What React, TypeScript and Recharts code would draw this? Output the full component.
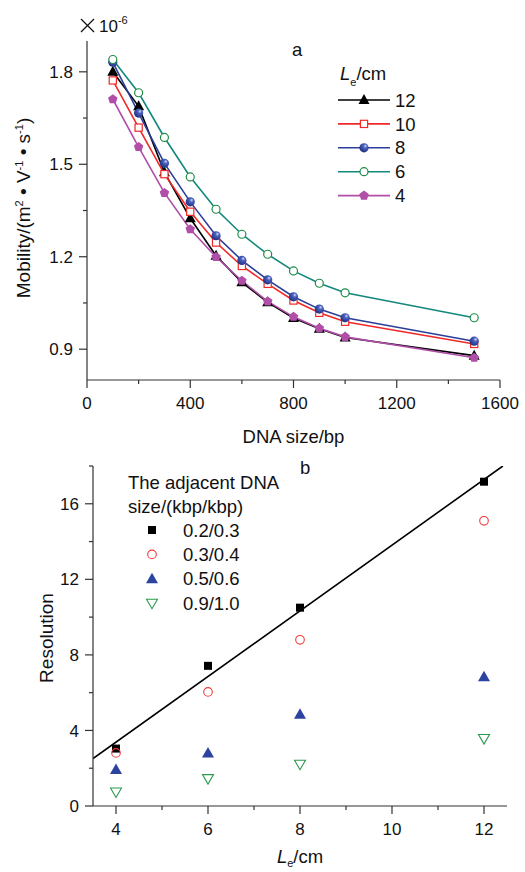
import React from "react";
import { LineChart, Line, XAxis, YAxis, Legend, ComposedChart, Scatter, Label } from "recharts";

// panel a: mobility (x10^-6 m2/V/s) vs DNA size, one series per effective length
const sizes = [100, 200, 300, 400, 500, 600, 700, 800, 900, 1000, 1500];
const mob12 = [1.8, 1.688, 1.474, 1.325, 1.203, 1.117, 1.052, 1.001, 0.966, 0.938, 0.879];
const mob10 = [1.772, 1.619, 1.468, 1.346, 1.246, 1.17, 1.112, 1.058, 1.018, 0.989, 0.917];
const mob8 = [1.831, 1.666, 1.503, 1.378, 1.268, 1.188, 1.125, 1.07, 1.03, 1.002, 0.926];
const mob6 = [1.84, 1.732, 1.587, 1.459, 1.354, 1.273, 1.208, 1.154, 1.114, 1.083, 1.002];
const mob4 = [1.711, 1.556, 1.407, 1.289, 1.199, 1.122, 1.055, 1.005, 0.968, 0.94, 0.872];
const lengthNames = ["12", "10", "8", "6", "4"];
const mobTicksX = [0, 200, 400, 600, 800, 1000, 1200, 1400, 1600];
const mobLabelsX = [0, 400, 800, 1200, 1600];
const mobTicksY = [0.9, 1.05, 1.2, 1.35, 1.5, 1.65, 1.8];
const mobLabelsY = [0.9, 1.2, 1.5, 1.8];

// panel b: resolution vs effective length
const lengths = [4, 6, 8, 12];
const res23 = [3.04, 7.42, 10.5, 17.17];
const res34 = [2.81, 6.04, 8.8, 15.1];
const res56 = [1.93, 2.81, 4.86, 6.84];
const res910 = [0.74, 1.45, 2.21, 3.57];
const pairNames = ["0.2/0.3", "0.3/0.4", "0.5/0.6", "0.9/1.0"];
const fitX = [3.5, 12.41];
const fitY = [2.51, 18];
const resTicksX = [4, 5, 6, 7, 8, 9, 10, 11, 12];
const resLabelsX = [4, 6, 8, 10, 12];
const resTicksY = [0, 2, 4, 6, 8, 10, 12, 14, 16, 18];
const resLabelsY = [0, 4, 8, 12, 16];

const FONT = "'Liberation Sans', Arial, sans-serif";
const AXIS = "#333";
const RED = "#f02828";
const BLUE = "#2b3f99";
const TEAL = "#13887c";
const GREEN = "#1f8c46";
const MAGENTA = "#b04ea8";

const mobRows = sizes.map((s, i) => ({
  size: s,
  m12: mob12[i],
  m10: mob10[i],
  m8: mob8[i],
  m6: mob6[i],
  m4: mob4[i],
}));
const toPts = (ys: number[]) => lengths.map((x, i) => ({ x, y: ys[i] }));
const fitRows = fitX.map((x, i) => ({ x, y: fitY[i] }));

type Kind = "tri" | "square" | "sphere" | "circle" | "pent" | "box" | "ring" | "up" | "down";

const Marker = ({ kind, cx, cy }: { kind: Kind; cx: number; cy: number }) => {
  if (cx == null || cy == null) return null;
  switch (kind) {
    case "tri":
      return <polygon points={`${cx},${cy - 6} ${cx + 5.5},${cy + 4} ${cx - 5.5},${cy + 4}`} fill="#000" />;
    case "square":
      return <rect x={cx - 3.6} y={cy - 3.6} width={7.2} height={7.2} fill="#fff" stroke={RED} strokeWidth={1.2} />;
    case "sphere":
      return <circle cx={cx} cy={cy} r={4.6} fill="url(#sphereGrad)" />;
    case "circle":
      return <circle cx={cx} cy={cy} r={4} fill="#fff" stroke={GREEN} strokeWidth={1.2} />;
    case "pent": {
      const pts = [0, 1, 2, 3, 4]
        .map((k) => {
          const a = -Math.PI / 2 + (k * 2 * Math.PI) / 5;
          return `${cx + 5 * Math.cos(a)},${cy + 5 * Math.sin(a)}`;
        })
        .join(" ");
      return <polygon points={pts} fill={MAGENTA} />;
    }
    case "box":
      return <rect x={cx - 4} y={cy - 4} width={8} height={8} fill="#000" />;
    case "ring":
      return <circle cx={cx} cy={cy} r={4.3} fill="none" stroke="#f03a3a" strokeWidth={1.1} />;
    case "up":
      return <polygon points={`${cx},${cy - 6} ${cx + 6},${cy + 4.5} ${cx - 6},${cy + 4.5}`} fill="#2c44a0" />;
    case "down":
      return (
        <polygon
          points={`${cx - 5.5},${cy - 4} ${cx + 5.5},${cy - 4} ${cx},${cy + 5.5}`}
          fill="#fff"
          stroke="#2b9a4e"
          strokeWidth={1.1}
        />
      );
  }
  return null;
};

const isIn = (list: number[], v: number) => list.some((m) => Math.abs(m - v) < 1e-6);

const makeTick = (orient: "left" | "bottom", labels: number[]) => (props: any) => {
  const { x, y, payload } = props;
  const v = payload.value;
  const major = isIn(labels, v);
  const len = major ? 8 : 4;
  if (orient === "left") {
    return (
      <g>
        <line x1={x - len} x2={x} y1={y} y2={y} stroke={AXIS} strokeWidth={1.2} />
        {major && (
          <text x={x - 14} y={y} dy="0.36em" textAnchor="end" fontSize={17} fontFamily={FONT} fill="#111">
            {String(v)}
          </text>
        )}
      </g>
    );
  }
  return (
    <g>
      <line x1={x} x2={x} y1={y} y2={y + len} stroke={AXIS} strokeWidth={1.2} />
      {major && (
        <text x={x} y={y + 23} dy="0.36em" textAnchor="middle" fontSize={17} fontFamily={FONT} fill="#111">
          {String(v)}
        </text>
      )}
    </g>
  );
};

const mobSeries: { key: string; color: string; kind: Kind }[] = [
  { key: "m12", color: "#000", kind: "tri" },
  { key: "m10", color: RED, kind: "square" },
  { key: "m8", color: BLUE, kind: "sphere" },
  { key: "m6", color: TEAL, kind: "circle" },
  { key: "m4", color: MAGENTA, kind: "pent" },
];

const resSeries: { data: number[]; kind: Kind }[] = [
  { data: res23, kind: "box" },
  { data: res34, kind: "ring" },
  { data: res56, kind: "up" },
  { data: res910, kind: "down" },
];

const LegendA = () => (
  <svg width={110} height={145} style={{ overflow: "visible", display: "block" }}>
    <text x={4} y={18} fontSize={18.5} fontFamily={FONT} fill="#111">
      <tspan fontStyle="italic">L</tspan>
      <tspan dy={6} fontSize={11}>e</tspan>
      <tspan dy={-6}>/cm</tspan>
    </text>
    {mobSeries.map((s, i) => {
      const y = 38 + i * 23.9;
      return (
        <g key={s.key}>
          <line x1={2} x2={54} y1={y} y2={y} stroke={s.color} strokeWidth={1.6} />
          <Marker kind={s.kind} cx={28} cy={y} />
          <text x={59} y={y} dy="0.36em" fontSize={18.5} fontFamily={FONT} fill="#111">
            {lengthNames[i]}
          </text>
        </g>
      );
    })}
  </svg>
);

const LegendB = () => (
  <svg width={170} height={140} style={{ overflow: "visible", display: "block" }}>
    <text x={4} y={19} fontSize={18.5} fontFamily={FONT} fill="#111">The adjacent DNA</text>
    <text x={4} y={43} fontSize={18.5} fontFamily={FONT} fill="#111">size/(kbp/kbp)</text>
    {resSeries.map((s, i) => {
      const y = 60 + i * 24.4;
      return (
        <g key={s.kind}>
          <Marker kind={s.kind} cx={28} cy={y} />
          <text x={59} y={y} dy="0.36em" fontSize={18.5} fontFamily={FONT} fill="#111">
            {pairNames[i]}
          </text>
        </g>
      );
    })}
  </svg>
);

const MobYLabel = () => {
  const cx = 30;
  const cy = 208;
  return (
    <text transform={`rotate(-90 ${cx} ${cy})`} x={cx} y={cy} textAnchor="middle" fontSize={19} fontFamily={FONT} fill="#111">
      Mobility/(m<tspan dy={-7} fontSize={11}>2</tspan>
      <tspan dy={7}> • V</tspan>
      <tspan dy={-7} fontSize={11}>-1</tspan>
      <tspan dy={7}> • s</tspan>
      <tspan dy={-7} fontSize={11}>-1</tspan>
      <tspan dy={7}>)</tspan>
    </text>
  );
};

const ResYLabel = () => {
  const cx = 53;
  const cy = 188;
  return (
    <text transform={`rotate(-90 ${cx} ${cy})`} x={cx} y={cy} textAnchor="middle" fontSize={19} fontFamily={FONT} fill="#111">
      Resolution
    </text>
  );
};

const MobXLabel = (props: any) => {
  const vb = props.viewBox;
  return (
    <text x={vb.x + vb.width / 2} y={443} textAnchor="middle" fontSize={18.5} fontFamily={FONT} fill="#111">
      DNA size/bp
    </text>
  );
};

const ResXLabel = (props: any) => {
  const vb = props.viewBox;
  return (
    <text x={vb.x + vb.width / 2} y={413} textAnchor="middle" fontSize={18.5} fontFamily={FONT} fill="#111">
      <tspan fontStyle="italic">L</tspan>
      <tspan dy={4} fontSize={11}>e</tspan>
      <tspan dy={-4}>/cm</tspan>
    </text>
  );
};

export default function App() {
  return (
    <div style={{ position: "absolute", left: 0, top: 0, width: 525, height: 872, background: "#fff", fontFamily: FONT }}>
      <svg width={0} height={0} style={{ position: "absolute" }}>
        <defs>
          <radialGradient id="sphereGrad" cx="0.62" cy="0.35" r="0.7" fx="0.65" fy="0.3">
            <stop offset="0" stopColor="#d8def5" />
            <stop offset="0.3" stopColor="#4b63c0" />
            <stop offset="1" stopColor="#1c2b7c" />
          </radialGradient>
        </defs>
      </svg>

      <div style={{ position: "absolute", left: 0, top: 0 }}>
        <LineChart width={525} height={450} data={mobRows} margin={{ top: 41, right: 25, left: 0, bottom: 0 }}>
          <XAxis
            dataKey="size"
            type="number"
            domain={[0, 1600]}
            ticks={mobTicksX}
            interval={0}
            height={70}
            tickSize={0}
            tickMargin={0}
            tickLine={false}
            tick={makeTick("bottom", mobLabelsX)}
            stroke={AXIS}
            strokeWidth={1.2}
          >
            <Label content={<MobXLabel />} />
          </XAxis>
          <YAxis
            type="number"
            domain={[0.8, 1.9]}
            ticks={mobTicksY}
            interval={0}
            width={87}
            tickSize={0}
            tickMargin={0}
            tickLine={false}
            tick={makeTick("left", mobLabelsY)}
            stroke={AXIS}
            strokeWidth={1.2}
            allowDataOverflow
          >
            <Label content={<MobYLabel />} />
          </YAxis>
          {mobSeries.map((s) => (
            <Line
              key={s.key}
              dataKey={s.key}
              stroke={s.color}
              strokeWidth={1.6}
              isAnimationActive={false}
              activeDot={false}
              dot={(p: any) => (
                <g key={`${s.key}-${p.index}`}>
                  <Marker kind={s.kind} cx={p.cx} cy={p.cy} />
                </g>
              )}
            />
          ))}
          <Legend
            layout="vertical"
            align="center"
            verticalAlign="middle"
            content={() => <LegendA />}
            wrapperStyle={{ left: 336, top: 62, width: 110 }}
          />
        </LineChart>
      </div>

      <div style={{ position: "absolute", left: 0, top: 450 }}>
        <ComposedChart width={525} height={422} margin={{ top: 16, right: 18, left: 0, bottom: 0 }}>
          <XAxis
            dataKey="x"
            type="number"
            domain={[3.5, 12.5]}
            ticks={resTicksX}
            interval={0}
            height={66}
            tickSize={0}
            tickMargin={0}
            tickLine={false}
            tick={makeTick("bottom", resLabelsX)}
            stroke={AXIS}
            strokeWidth={1.2}
            allowDataOverflow
          >
            <Label content={<ResXLabel />} />
          </XAxis>
          <YAxis
            dataKey="y"
            type="number"
            domain={[0, 18]}
            ticks={resTicksY}
            interval={0}
            width={93}
            tickSize={0}
            tickMargin={0}
            tickLine={false}
            tick={makeTick("left", resLabelsY)}
            stroke={AXIS}
            strokeWidth={1.2}
            allowDataOverflow
          >
            <Label content={<ResYLabel />} />
          </YAxis>
          <Line
            data={fitRows}
            dataKey="y"
            stroke="#000"
            strokeWidth={1.6}
            dot={false}
            activeDot={false}
            legendType="none"
            isAnimationActive={false}
          />
          {resSeries.map((s, i) => (
            <Scatter
              key={s.kind}
              name={pairNames[i]}
              data={toPts(s.data)}
              isAnimationActive={false}
              shape={(p: any) => <Marker kind={s.kind} cx={p.cx} cy={p.cy} />}
            />
          ))}
          <Legend
            layout="vertical"
            align="center"
            verticalAlign="middle"
            content={() => <LegendB />}
            wrapperStyle={{ left: 124, top: 20, width: 170 }}
          />
        </ComposedChart>
      </div>

      <svg width={60} height={30} style={{ position: "absolute", left: 76, top: 10, overflow: "visible" }}>
        <line x1={5} y1={9} x2={18} y2={22} stroke="#111" strokeWidth={1.3} />
        <line x1={18} y1={9} x2={5} y2={22} stroke="#111" strokeWidth={1.3} />
        <text x={23} y={22} fontSize={17} fontFamily={FONT} fill="#111">
          10<tspan dy={-8} fontSize={11}>-6</tspan>
        </text>
      </svg>
      <div style={{ position: "absolute", left: 292, top: 39, fontSize: 18.5, color: "#111" }}>a</div>
      <div style={{ position: "absolute", left: 300, top: 457, fontSize: 18.5, color: "#111" }}>b</div>
    </div>
  );
}
